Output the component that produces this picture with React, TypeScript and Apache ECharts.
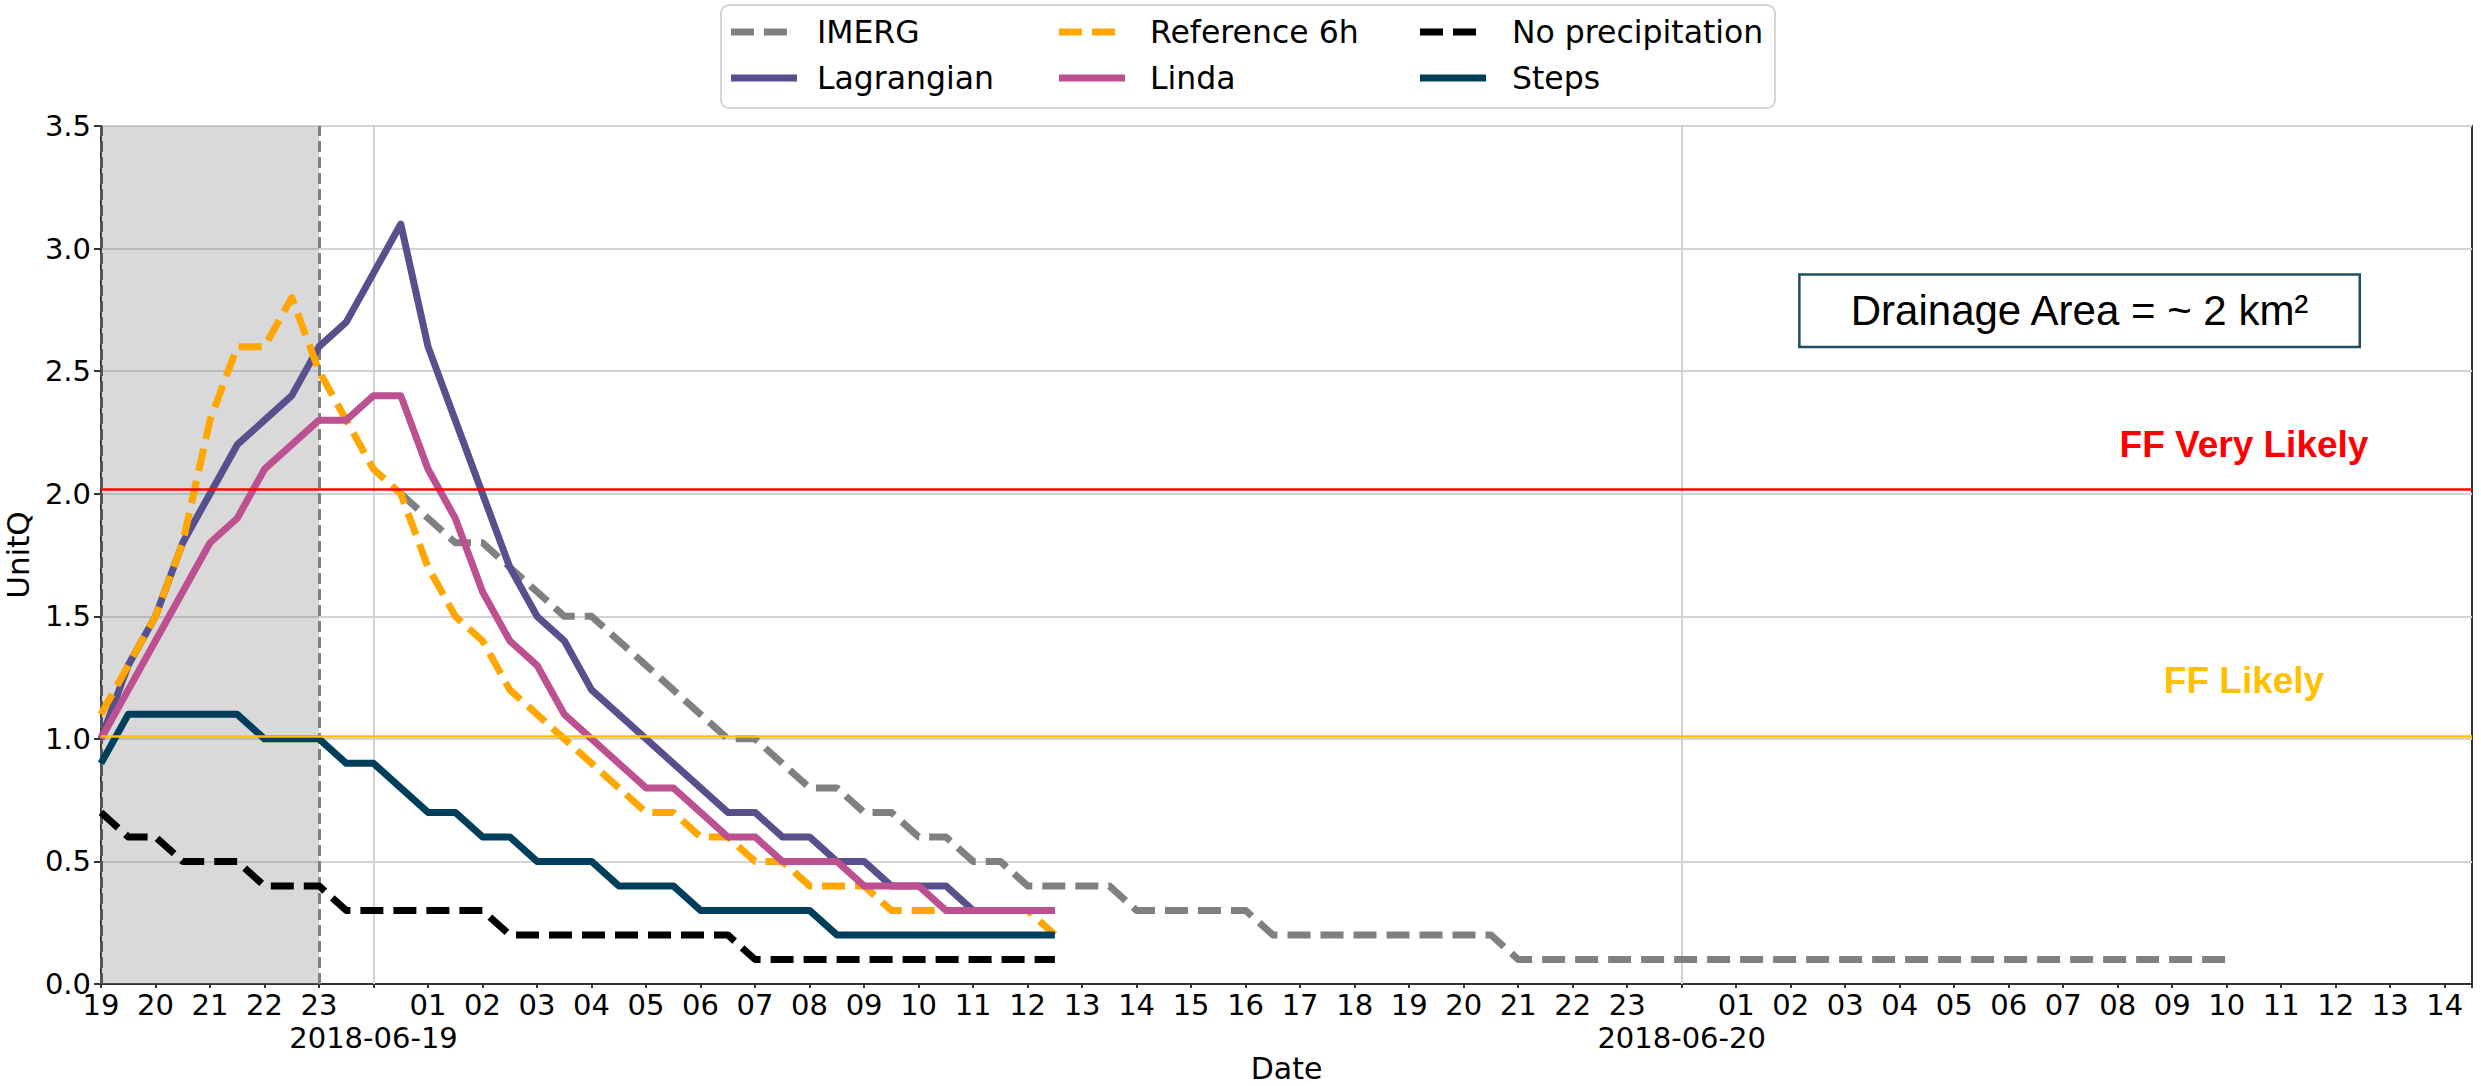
import React, { useEffect, useRef } from 'react';
import * as echarts from 'echarts';

const HOUR = 3600 * 1000;
const HALF_HOUR = HOUR / 2;

// time frame
const T0 = Date.UTC(2018, 5, 18, 19, 0); // first sample: 2018-06-18 19:00
const X_MAX = Date.UTC(2018, 5, 20, 14, 30);
const IMERG_START = Date.UTC(2018, 5, 19, 0, 30);
const NOWCAST_END = Date.UTC(2018, 5, 18, 23, 0);

// day ticks and their labels
const dayTicks = [Date.UTC(2018, 5, 19), Date.UTC(2018, 5, 20)];
const dayLabels = ['2018-06-19', '2018-06-20'];

// y ticks
const Y_MIN = 0;
const Y_MAX = 3.5;
const Y_STEP = 0.5;

// series values (half-hourly)
const imerg = [
  2.0, 1.9, 1.8, 1.8, 1.7, 1.6, 1.5, 1.5, 1.4, 1.3,
  1.2, 1.1, 1.0, 1.0, 0.9, 0.8, 0.8, 0.7, 0.7, 0.6,
  0.6, 0.5, 0.5, 0.4, 0.4, 0.4, 0.4, 0.3, 0.3, 0.3,
  0.3, 0.3, 0.2, 0.2, 0.2, 0.2, 0.2, 0.2, 0.2, 0.2,
  0.2, 0.1, 0.1, 0.1, 0.1, 0.1, 0.1, 0.1, 0.1, 0.1,
  0.1, 0.1, 0.1, 0.1, 0.1, 0.1, 0.1, 0.1, 0.1, 0.1,
  0.1, 0.1, 0.1, 0.1, 0.1, 0.1, 0.1, 0.1,
];
const lagrangian = [
  1.0, 1.3, 1.5, 1.8, 2.0, 2.2, 2.3, 2.4, 2.6, 2.7,
  2.9, 3.1, 2.6, 2.3, 2.0, 1.7, 1.5, 1.4, 1.2, 1.1,
  1.0, 0.9, 0.8, 0.7, 0.7, 0.6, 0.6, 0.5, 0.5, 0.4,
  0.4, 0.4, 0.3, 0.3, 0.3, 0.3,
];
const reference6h = [
  1.1, 1.3, 1.5, 1.8, 2.3, 2.6, 2.6, 2.8, 2.5, 2.3,
  2.1, 2.0, 1.7, 1.5, 1.4, 1.2, 1.1, 1.0, 0.9, 0.8,
  0.7, 0.7, 0.6, 0.6, 0.5, 0.5, 0.4, 0.4, 0.4, 0.3,
  0.3, 0.3, 0.3, 0.3, 0.3, 0.2,
];
const linda = [
  1.0, 1.2, 1.4, 1.6, 1.8, 1.9, 2.1, 2.2, 2.3, 2.3,
  2.4, 2.4, 2.1, 1.9, 1.6, 1.4, 1.3, 1.1, 1.0, 0.9,
  0.8, 0.8, 0.7, 0.6, 0.6, 0.5, 0.5, 0.5, 0.4, 0.4,
  0.4, 0.3, 0.3, 0.3, 0.3, 0.3,
];
const noPrecipitation = [
  0.7, 0.6, 0.6, 0.5, 0.5, 0.5, 0.4, 0.4, 0.4, 0.3,
  0.3, 0.3, 0.3, 0.3, 0.3, 0.2, 0.2, 0.2, 0.2, 0.2,
  0.2, 0.2, 0.2, 0.2, 0.1, 0.1, 0.1, 0.1, 0.1, 0.1,
  0.1, 0.1, 0.1, 0.1, 0.1, 0.1,
];
const steps = [
  0.9, 1.1, 1.1, 1.1, 1.1, 1.1, 1.0, 1.0, 1.0, 0.9,
  0.9, 0.8, 0.7, 0.7, 0.6, 0.6, 0.5, 0.5, 0.5, 0.4,
  0.4, 0.4, 0.3, 0.3, 0.3, 0.3, 0.3, 0.2, 0.2, 0.2,
  0.2, 0.2, 0.2, 0.2, 0.2, 0.2,
];

// thresholds
const FF_VERY_LIKELY = 2.02;
const FF_LIKELY = 1.015;

// annotations anchored in data coordinates
const annotations = [
  { text: 'FF Very Likely', x: Date.UTC(2018, 5, 20, 10, 19), y: 2.2, color: '#ff0000' },
  { text: 'FF Likely', x: Date.UTC(2018, 5, 20, 10, 19), y: 1.237, color: '#ffc000' },
];
const drainageNote = { text: 'Drainage Area = ~ 2 km²', x: Date.UTC(2018, 5, 20, 7, 18), y: 2.746 };

const seriesDefs = [
  { name: 'IMERG', values: imerg, start: IMERG_START, color: '#808080', dashed: true },
  { name: 'Lagrangian', values: lagrangian, start: T0, color: '#58508d', dashed: false },
  { name: 'Reference 6h', values: reference6h, start: T0, color: '#ffa600', dashed: true },
  { name: 'Linda', values: linda, start: T0, color: '#bc5090', dashed: false },
  { name: 'No precipitation', values: noPrecipitation, start: T0, color: '#000000', dashed: true },
  { name: 'Steps', values: steps, start: T0, color: '#003f5c', dashed: false },
];

const LINE_W = 7;
const DASH = [23, 10];
const MPL_FONT = 'DejaVu Sans';
const TICK_FONT = 29;
const pad2 = (n: number) => (n < 10 ? '0' + n : '' + n);

function buildOption(): any {
  const lineSeries = seriesDefs.map((s) => ({
    name: s.name,
    type: 'line',
    xAxisIndex: 0,
    yAxisIndex: 0,
    symbol: 'none',
    showSymbol: false,
    z: 2,
    lineStyle: { color: s.color, width: LINE_W, type: s.dashed ? DASH : 'solid', cap: 'butt', join: 'round' },
    data: s.values.map((v, i) => [s.start + i * HALF_HOUR, v]),
  }));

  return {
    animation: false,
    backgroundColor: '#ffffff',
    grid: { left: 101, top: 126, right: 9, bottom: 102, show: true, borderColor: '#333', borderWidth: 2, backgroundColor: 'transparent', outerBoundsMode: 'none' },
    xAxis: [
      {
        type: 'value', min: T0, max: X_MAX, interval: HOUR, position: 'bottom',
        axisLine: { show: true, onZero: false, lineStyle: { color: '#333', width: 2 } },
        axisTick: { show: true, length: 4, lineStyle: { color: '#333', width: 2 } },
        axisLabel: {
          margin: 6, fontSize: TICK_FONT, color: '#000', fontFamily: MPL_FONT,
          formatter: (v: number) => {
            const d = new Date(v);
            if (d.getUTCMinutes() !== 0 || d.getUTCHours() === 0) return '';
            return pad2(d.getUTCHours());
          },
        },
        splitLine: { show: false },
        name: 'Date', nameLocation: 'middle', nameGap: 69,
        nameTextStyle: { fontSize: 30, lineHeight: 30, color: '#000', fontFamily: MPL_FONT },
      },
      {
        type: 'value', min: T0, max: X_MAX, interval: HOUR, position: 'bottom',
        axisLine: { show: false }, axisTick: { show: false }, splitLine: { show: false },
        axisLabel: {
          margin: 39, fontSize: TICK_FONT, color: '#000', fontFamily: MPL_FONT,
          formatter: (v: number) => {
            const k = dayTicks.indexOf(v);
            return k >= 0 ? dayLabels[k] : '';
          },
        },
      },
    ],
    yAxis: {
      type: 'value', min: Y_MIN, max: Y_MAX, interval: Y_STEP,
      axisLine: { show: true, lineStyle: { color: '#333', width: 2 } },
      axisTick: { show: true, length: 7, lineStyle: { color: '#333', width: 2 } },
      axisLabel: { margin: 10, fontSize: TICK_FONT, color: '#000', fontFamily: MPL_FONT, formatter: (v: number) => v.toFixed(1) },
      splitLine: { show: true, lineStyle: { color: '#d3d3d3', width: 2 } },
      name: 'UnitQ', nameLocation: 'middle', nameGap: 47,
      nameTextStyle: { fontSize: 31, color: '#000', fontFamily: MPL_FONT },
    },
    series: [
      {
        name: '_background', type: 'line', data: [], silent: true,
        markArea: {
          silent: true,
          itemStyle: { color: 'rgba(128,128,128,0.3)' },
          data: [[{ xAxis: T0 }, { xAxis: NOWCAST_END }]],
        },
        markLine: {
          silent: true, z: 1, symbol: ['none', 'none'], label: { show: false },
          data: [
            ...dayTicks.map((t) => ({ xAxis: t, lineStyle: { color: '#d0d0d0', width: 2, type: 'solid' } })),
            { xAxis: T0, lineStyle: { color: '#555', width: 3, type: [11, 5] } },
            { xAxis: NOWCAST_END, lineStyle: { color: '#808080', width: 3, type: [11, 5] } },
          ],
        },
      },
      ...lineSeries,
      {
        name: '_thresholds', type: 'line', data: [], silent: true,
        markLine: {
          silent: true, z: 5, symbol: ['none', 'none'], label: { show: false },
          data: [
            { yAxis: FF_VERY_LIKELY, lineStyle: { color: '#ff0000', width: 2.5, type: 'solid' } },
            { yAxis: FF_LIKELY, lineStyle: { color: '#ffc000', width: 2.5, type: 'solid' } },
          ],
        },
      },
    ],
  };
}

function buildGraphic(chart: any): any[] {
  const els: any[] = [];
  // legend frame
  els.push({
    type: 'rect', z: 10,
    shape: { x: 721, y: 5, width: 1054, height: 103, r: 8 },
    style: { fill: '#ffffff', stroke: '#d5d5d5', lineWidth: 2 },
  });
  const colX = [731, 1059, 1420];
  const textX = [817, 1150, 1512];
  const rowY = [32, 78];
  seriesDefs.forEach((s, idx) => {
    const col = Math.floor(idx / 2);
    const row = idx % 2;
    els.push({
      type: 'line', z: 11,
      shape: { x1: colX[col], y1: rowY[row], x2: colX[col] + 66, y2: rowY[row] },
      style: { stroke: s.color, lineWidth: LINE_W, lineDash: s.dashed ? DASH : null, lineCap: 'butt' },
    });
    els.push({
      type: 'text', z: 11, x: textX[col], y: rowY[row],
      style: {
        text: s.name, fontSize: 31.5, fontFamily: MPL_FONT, fill: '#000',
        align: 'left', verticalAlign: 'middle', textAlign: 'left', textVerticalAlign: 'middle',
      },
    });
  });
  annotations.forEach((a) => {
    const p = chart.convertToPixel({ gridIndex: 0 }, [a.x, a.y]);
    els.push({
      type: 'text', z: 12, x: p[0], y: p[1],
      style: {
        text: a.text, fontSize: 37, fontWeight: 'bold', fontFamily: 'Liberation Sans', fill: a.color,
        align: 'center', verticalAlign: 'middle', textAlign: 'center', textVerticalAlign: 'middle',
      },
    });
  });
  const q = chart.convertToPixel({ gridIndex: 0 }, [drainageNote.x, drainageNote.y]);
  els.push({
    type: 'text', z: 12, x: q[0], y: q[1],
    style: {
      text: drainageNote.text, fontSize: 42, fontFamily: 'Liberation Sans', fill: '#000',
      align: 'center', verticalAlign: 'middle', textAlign: 'center', textVerticalAlign: 'middle',
      lineHeight: 50, padding: [10, 49], borderColor: '#1f4e5f', borderWidth: 2.5, backgroundColor: '#ffffff',
    },
  });
  return els;
}

export default function App() {
  const ref = useRef<HTMLDivElement>(null);
  useEffect(() => {
    if (!ref.current) return;
    const chart = echarts.init(ref.current, null, { renderer: 'svg' });
    chart.setOption(buildOption());
    chart.setOption({ graphic: buildGraphic(chart) });
    return () => chart.dispose();
  }, []);
  return (
    <div
      ref={ref}
      style={{ position: 'fixed', left: 0, top: 0, width: 2481, height: 1086, background: '#ffffff' }}
    />
  );
}
